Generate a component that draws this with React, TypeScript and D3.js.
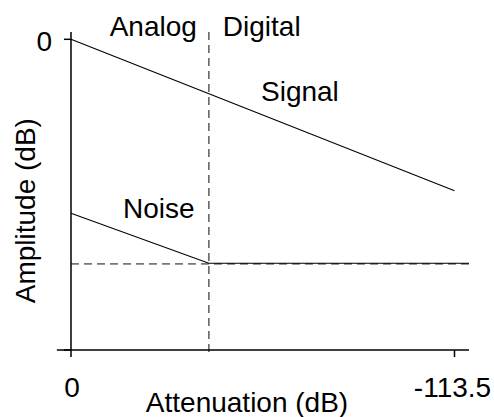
import React from "react";
import * as d3 from "d3";

// ---- data ----
const xTicks = [0, -113.5];
const xTickLabels = ["0", "-113.5"];
const yTicks = [0];
const yTickLabels = ["0"];
const signalX = [0, -113.5];
const signalY = [0, -113.5];
const noiseX = [0, -40.8, -117.8];
const noiseY = [-130.4, -167.9, -167.9];
const boundaryX = -40.8;
const noiseFloor = -167.9;
const xDomain = [2.1, -117.8];
const yDomain = [5.5, -232.9];

const W = 494;
const H = 417;
const FONT = "'Liberation Sans', Arial, Helvetica, sans-serif";

export default function App() {
  const x = d3.scaleLinear().domain([0, -113.5]).range([71, 454.5]);
  const y = d3.scaleLinear().domain([0, -232.9]).range([39.3, 350]);
  const line = d3
    .line<[number, number]>()
    .x((d) => x(d[0]))
    .y((d) => y(d[1]));
  const signal = line(signalX.map((v, i) => [v, signalY[i]] as [number, number]));
  const noise = line(noiseX.map((v, i) => [v, noiseY[i]] as [number, number]));
  const tick = 7;
  const x0 = x(xDomain[0]);
  const x1 = x(xDomain[1]);
  const yTop = y(yDomain[0]);
  const yBot = y(yDomain[1]);
  const fs = 28;

  return (
    <svg
      width={W}
      height={H}
      style={{ position: "absolute", left: 0, top: 0, background: "#fff" }}
      fontFamily={FONT}
    >
      {/* reference dashed lines */}
      <line
        x1={x(boundaryX)}
        x2={x(boundaryX)}
        y1={yTop}
        y2={yBot + tick}
        stroke="#666"
        strokeWidth={1.6}
        strokeDasharray="8,5"
      />
      <line
        x1={x(0)}
        x2={x1}
        y1={y(noiseFloor) + 0.6}
        y2={y(noiseFloor) + 0.6}
        stroke="#777"
        strokeWidth={1.6}
        strokeDasharray="8,5"
      />
      {/* axes */}
      <line x1={x(0)} x2={x(0)} y1={yTop} y2={yBot} stroke="#000" strokeWidth={1.5} />
      <line x1={x0 - tick} x2={x1} y1={yBot} y2={yBot} stroke="#000" strokeWidth={1.5} />
      <line x1={x(0) - tick} x2={x(0)} y1={yBot} y2={yBot} stroke="#000" strokeWidth={1.5} />
      {xTicks.map((t, i) => (
        <g key={"xt" + i}>
          <line x1={x(t)} x2={x(t)} y1={yBot} y2={yBot + tick} stroke="#000" strokeWidth={1.5} />
          <text x={x(t) + (i === 0 ? 1 : -2)} y={397} fontSize={fs} textAnchor="middle" fill="#000">
            {xTickLabels[i]}
          </text>
        </g>
      ))}
      {yTicks.map((t, i) => (
        <g key={"yt" + i}>
          <line x1={x(0) - tick} x2={x(0)} y1={y(t)} y2={y(t)} stroke="#000" strokeWidth={1.5} />
          <text x={52} y={y(t) + 11.5} fontSize={fs} textAnchor="end" fill="#000">
            {yTickLabels[i]}
          </text>
        </g>
      ))}
      {/* series */}
      <path d={signal ?? ""} fill="none" stroke="#000" strokeWidth={1.1} />
      <path d={noise ?? ""} fill="none" stroke="#000" strokeWidth={1.1} />
      {/* annotations */}
      <text x={x(boundaryX) - 12} y={36} fontSize={fs} textAnchor="end" fill="#000">
        Analog
      </text>
      <text x={x(boundaryX) + 14} y={36} fontSize={fs} fill="#000">
        Digital
      </text>
      <text x={261} y={101} fontSize={fs} fill="#000">
        Signal
      </text>
      <text x={123} y={218} fontSize={fs} fill="#000">
        Noise
      </text>
      {/* axis titles */}
      <text x={247} y={412} fontSize={fs} textAnchor="middle" fill="#000">
        Attenuation (dB)
      </text>
      <text
        transform={`translate(35, ${(y(0) + yBot) / 2 + 16}) rotate(-90)`}
        fontSize={fs}
        textAnchor="middle"
        fill="#000"
      >
        Amplitude (dB)
      </text>
    </svg>
  );
}
